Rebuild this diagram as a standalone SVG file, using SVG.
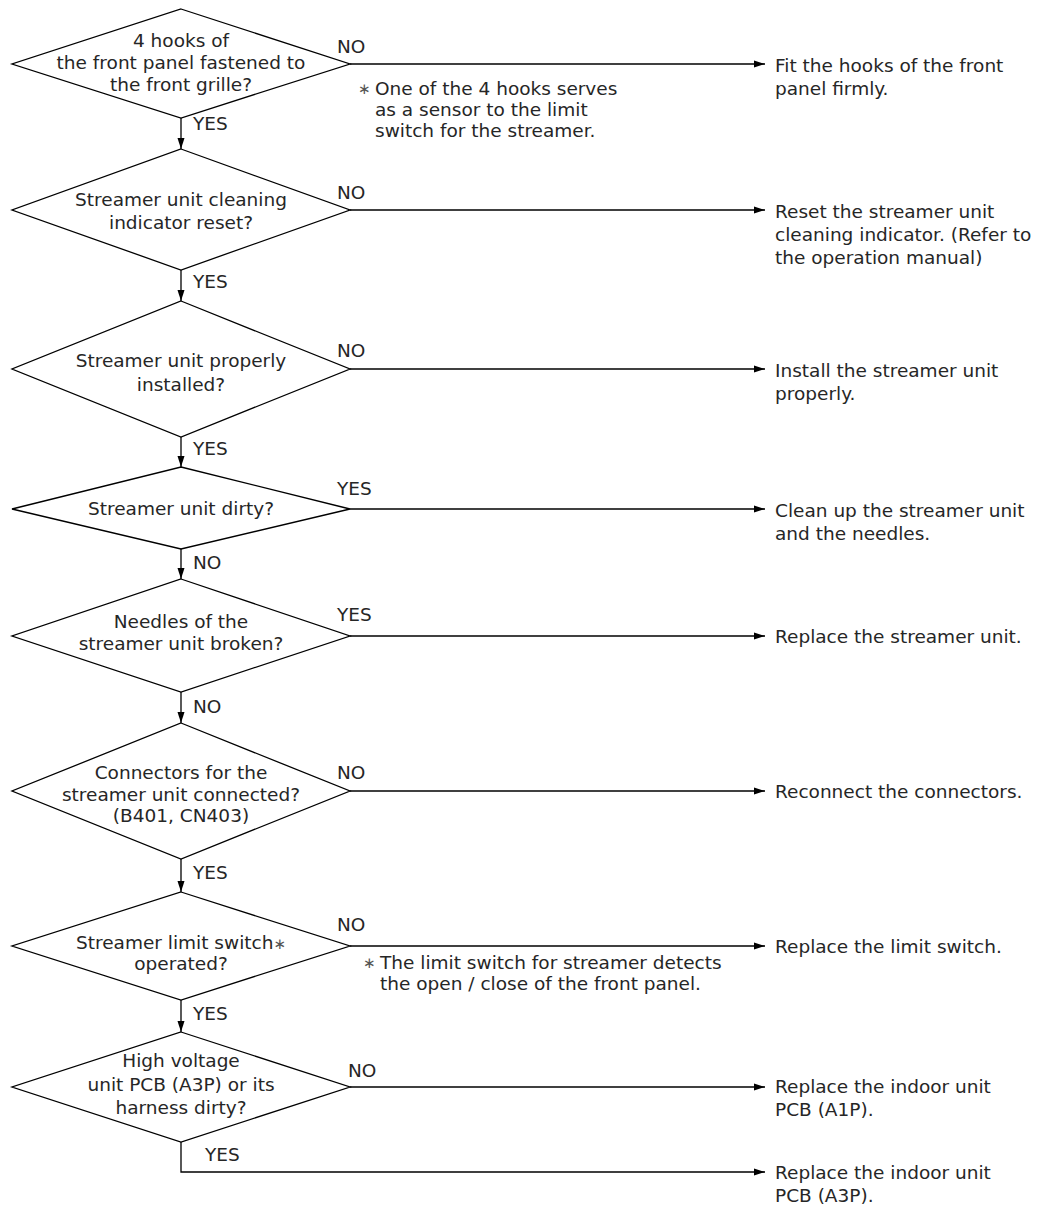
<svg xmlns="http://www.w3.org/2000/svg" width="1049" height="1207" viewBox="0 0 1049 1207">
<style>
  text { font-family: "DejaVu Sans", "Liberation Sans", sans-serif; font-size: 18.5px; fill: #262626; }
  .c { text-anchor: middle; }
  .dia { fill: #ffffff; stroke: #000000; stroke-width: 1.3; }
  .ln { fill: none; stroke: #000000; stroke-width: 1.3; }
  .arr { marker-end: url(#ah); }
  .ast { font-size: 15px; fill: #555555; }
</style>
<defs>
  <marker id="ah" markerUnits="userSpaceOnUse" markerWidth="11" markerHeight="8" refX="11" refY="4" orient="auto">
    <path d="M0,0.5 L11,4 L0,7.5 z" fill="#000000"/>
  </marker>
</defs>
<rect x="0" y="0" width="1049" height="1207" fill="#ffffff"/>

<g id="connectors">
  <line class="ln arr" x1="181" y1="118" x2="181" y2="149"/>
  <line class="ln arr" x1="181" y1="270" x2="181" y2="301"/>
  <line class="ln arr" x1="181" y1="437" x2="181" y2="467"/>
  <line class="ln arr" x1="181" y1="549" x2="181" y2="579"/>
  <line class="ln arr" x1="181" y1="692" x2="181" y2="723"/>
  <line class="ln arr" x1="181" y1="859" x2="181" y2="892"/>
  <line class="ln arr" x1="181" y1="1000" x2="181" y2="1032"/>

  <line class="ln arr" x1="350" y1="64" x2="765" y2="64"/>
  <line class="ln arr" x1="350" y1="210" x2="765" y2="210"/>
  <line class="ln arr" x1="350" y1="369" x2="765" y2="369"/>
  <line class="ln arr" x1="350" y1="509" x2="765" y2="509"/>
  <line class="ln arr" x1="350" y1="636" x2="765" y2="636"/>
  <line class="ln arr" x1="350" y1="791" x2="765" y2="791"/>
  <line class="ln arr" x1="350" y1="946" x2="765" y2="946"/>
  <line class="ln arr" x1="350" y1="1087" x2="765" y2="1087"/>
  <path class="ln arr" d="M181,1142 V1172 H765"/>

  <text x="337" y="53">NO</text>
  <text x="193" y="130">YES</text>
  <text x="337" y="199">NO</text>
  <text x="193" y="288">YES</text>
  <text x="337" y="357">NO</text>
  <text x="193" y="455">YES</text>
  <text x="337" y="495">YES</text>
  <text x="193" y="569">NO</text>
  <text x="337" y="621">YES</text>
  <text x="193" y="713">NO</text>
  <text x="337" y="779">NO</text>
  <text x="193" y="879">YES</text>
  <text x="337" y="931">NO</text>
  <text x="193" y="1020">YES</text>
  <text x="348" y="1077">NO</text>
  <text x="205" y="1161">YES</text>
</g>

<g id="d1">
  <polygon class="dia" points="181,9 350,64 181,118 12,64"/>
  <text class="c" x="181" y="47">4 hooks of</text>
  <text class="c" x="181" y="69">the front panel fastened to</text>
  <text class="c" x="181" y="91">the front grille?</text>
</g>
<g id="d2">
  <polygon class="dia" points="181,149 350,210 181,270 12,210"/>
  <text class="c" x="181" y="206">Streamer unit cleaning</text>
  <text class="c" x="181" y="229">indicator reset?</text>
</g>
<g id="d3">
  <polygon class="dia" points="181,301 350,369 181,437 12,369"/>
  <text class="c" x="181" y="367">Streamer unit properly</text>
  <text class="c" x="181" y="391">installed?</text>
</g>
<g id="d4">
  <polygon class="dia" points="181,467 350,509 181,549 12,509"/>
  <text class="c" x="181" y="515">Streamer unit dirty?</text>
</g>
<g id="d5">
  <polygon class="dia" points="181,579 350,636 181,692 12,636"/>
  <text class="c" x="181" y="628">Needles of the</text>
  <text class="c" x="181" y="650">streamer unit broken?</text>
</g>
<g id="d6">
  <polygon class="dia" points="181,723 350,791 181,859 12,791"/>
  <text class="c" x="181" y="779">Connectors for the</text>
  <text class="c" x="181" y="801">streamer unit connected?</text>
  <text class="c" x="181" y="822">(B401, CN403)</text>
</g>
<g id="d7">
  <polygon class="dia" points="181,892 350,946 181,1000 12,946"/>
  <text class="c" x="181" y="949">Streamer limit switch<tspan class="ast">∗</tspan></text>
  <text class="c" x="181" y="970">operated?</text>
</g>
<g id="d8">
  <polygon class="dia" points="181,1032 350,1087 181,1142 12,1087"/>
  <text class="c" x="181" y="1067">High voltage</text>
  <text class="c" x="181" y="1091">unit PCB (A3P) or its</text>
  <text class="c" x="181" y="1114">harness dirty?</text>
</g>

<g id="note1">
  <text class="ast" x="358" y="94">∗</text>
  <text x="375" y="95">One of the 4 hooks serves</text>
  <text x="375" y="116">as a sensor to the limit</text>
  <text x="375" y="137">switch for the streamer.</text>
</g>
<g id="note2">
  <text class="ast" x="363" y="968">∗</text>
  <text x="380" y="969">The limit switch for streamer detects</text>
  <text x="380" y="990">the open / close of the front panel.</text>
</g>

<g id="r1">
  <text x="775" y="72">Fit the hooks of the front</text>
  <text x="775" y="95">panel firmly.</text>
</g>
<g id="r2">
  <text x="775" y="218">Reset the streamer unit</text>
  <text x="775" y="241">cleaning indicator. (Refer to</text>
  <text x="775" y="264">the operation manual)</text>
</g>
<g id="r3">
  <text x="775" y="377">Install the streamer unit</text>
  <text x="775" y="400">properly.</text>
</g>
<g id="r4">
  <text x="775" y="517">Clean up the streamer unit</text>
  <text x="775" y="540">and the needles.</text>
</g>
<g id="r5">
  <text x="775" y="643">Replace the streamer unit.</text>
</g>
<g id="r6">
  <text x="775" y="798">Reconnect the connectors.</text>
</g>
<g id="r7">
  <text x="775" y="953">Replace the limit switch.</text>
</g>
<g id="r8">
  <text x="775" y="1093">Replace the indoor unit</text>
  <text x="775" y="1116">PCB (A1P).</text>
</g>
<g id="r9">
  <text x="775" y="1179">Replace the indoor unit</text>
  <text x="775" y="1202">PCB (A3P).</text>
</g>
</svg>
